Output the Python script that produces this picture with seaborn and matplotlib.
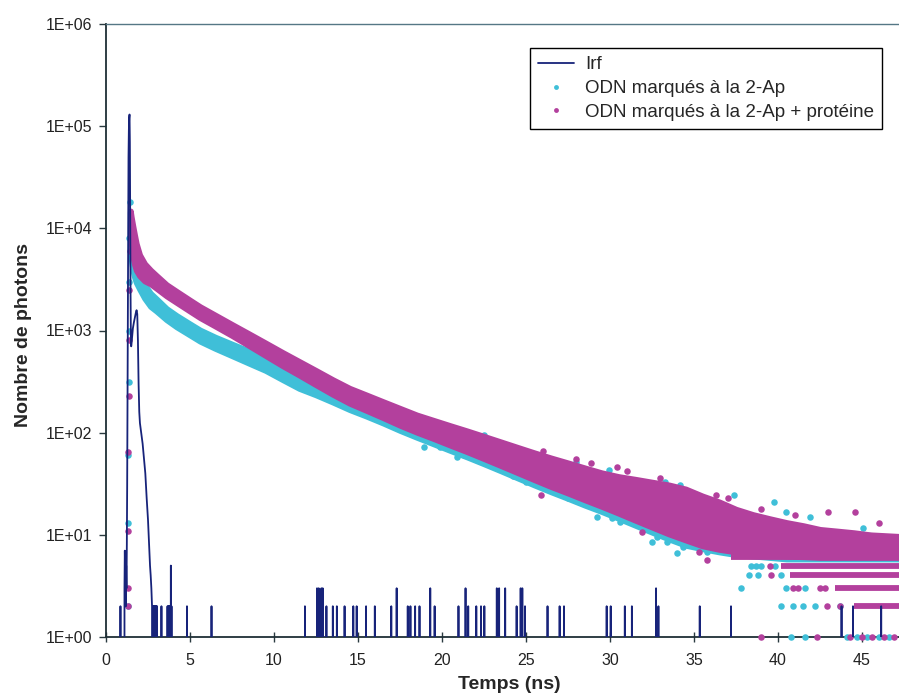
import numpy as np
import pandas as pd
import matplotlib
matplotlib.use("Agg")
import matplotlib.pyplot as plt
from matplotlib.lines import Line2D
from matplotlib.ticker import FuncFormatter, NullLocator
import seaborn as sns

# === Data ===
# decay bands: lower / upper edge of the dot cloud (photon counts) on a time grid (ns)
t_band = [1.45, 1.5, 1.6, 1.7, 1.8, 2.0, 2.3, 2.65, 3.0, 3.6, 4.2, 5.0, 5.6, 6.5, 7.5, 8.5, 9.5,
          10.5, 11.5, 12.5, 13.5, 14.5, 15.5, 16.5, 17.5, 18.5, 19.5, 20.5, 21.5, 22.5, 23.5,
          24.5, 25.5, 26.5, 27.5, 28.5, 29.5, 30.5, 31.5, 32.5, 33.5, 34.5, 35.5, 36.5, 37.5,
          38.5, 39.5, 40.5, 41.5, 42.5, 43.5, 44.5, 45.5, 46.5, 47.5]

mag_lo = [8900, 7200, 5250, 4400, 3890, 3430, 3055, 2860, 2590, 2180, 1880, 1545, 1335, 1105,
          893, 713, 568, 453, 366, 294, 237, 194, 165, 140, 118, 101, 87.5, 75.3, 65, 55.7,
          47.6, 40.6, 34.6, 29.6, 25.6, 22, 19, 16.3, 13.9, 11.9, 10.2, 8.9, 7.8, 7.2, 6.8,
          6.5, 6.3, 6.2, 6.1, 6.0, 6.0, 6.0, 6.0, 6.0, 6.0]
mag_hi = [14800, 13000, 10500, 8600, 7100, 5500, 4500, 3900, 3450, 2810, 2415, 1980, 1710, 1415,
          1146, 931, 755, 611, 498, 406, 330, 272, 234, 201, 173, 149, 132, 117, 104, 92,
          81.3, 71.8, 63.5, 56.5, 50.6, 45.2, 40.5, 37.2, 35, 32.8, 30.8, 28.1, 24, 21, 17.8,
          15.8, 14.4, 13.2, 12.3, 11.3, 10.9, 10.5, 10, 9.8, 9.6]

cyan_lo = [6300, 5000, 3890, 3310, 2950, 2540, 2065, 1720, 1550, 1275, 1085, 902, 785, 668,
           566, 479, 406, 331, 271, 234, 199, 168, 145, 124, 105, 90, 77.6, 66.8, 57.7, 49.5,
           42.3, 36, 30.7, 26.3, 22.7, 19.5, 16.9, 14.5, 12.4, 10.6, 9.1, 7.9, 7.3, 6.8, 6.4,
           6.2, 6.0, 5.8, 5.8, 5.8, 5.8, 5.8, 5.8, 5.8, 5.8]
cyan_hi = [14450, 8700, 5890, 4790, 4070, 3430, 2790, 2310, 2040, 1640, 1400, 1160, 1010, 861,
           736, 631, 540, 447, 369, 324, 277, 237, 208, 180, 154, 134, 119, 105, 93, 82.2,
           72.8, 64.3, 56.9, 50.6, 45.3, 40.5, 36.2, 33.2, 31.2, 29.2, 27.5, 25.1, 22, 19.5,
           17, 15, 13.6, 12.5, 11.7, 11.1, 10.6, 10.2, 9.9, 9.6, 9.4]

# single dots: rising edge, stray points, sparse low-count levels
mag_dot_t = [1.30, 1.31, 1.32, 1.33, 1.34, 1.36, 1.38, 1.40,
             25.91, 26.0, 28.0, 28.86, 30.43, 31.0, 31.9, 33.0,
             35.3, 35.8, 36.32, 37.0, 39.0, 41.0, 43.0, 44.56, 46.0,
             42.9, 43.7, 40.9, 41.2, 42.5, 42.8, 39.6, 39.5]
mag_dot_n = [2, 3, 11, 65, 230, 800, 2500, 6000,
             24.5, 66, 55, 50, 46, 42, 10.7, 36,
             6.8, 5.7, 24.6, 23, 18, 15.5, 16.8, 16.8, 13,
             2, 2, 3, 3, 3, 3, 4, 5]

cyan_dot_t = [1.31, 1.32, 1.33, 1.34, 1.35, 1.37, 1.39, 1.42,
              18.9, 19.9, 20.9, 21.3, 22.48, 24.2, 25.0, 27.48, 27.97, 28.96, 29.25, 29.93,
              30.13, 30.62, 32.49, 32.78, 33.27, 33.37, 33.96, 34.04, 34.16, 34.34, 34.35,
              35.23, 35.8, 36.4, 37.4, 39.75, 40.5, 41.9, 45.05,
              40.15, 40.9, 41.5, 42.2, 43.7, 37.8, 40.5, 41.6, 38.3, 38.8, 40.15, 38.4, 38.7,
              39.0, 39.8]
cyan_dot_n = [2, 13, 60, 310, 1000, 3000, 8000, 18000,
              73, 73, 58, 60, 95, 38, 33, 23, 52, 18.8, 15, 43,
              14.6, 13.4, 8.6, 9.6, 33, 8.6, 6.6, 11.1, 30.8, 7.6, 7.9,
              8.3, 6.8, 7.6, 24.6, 21, 16.8, 15, 11.7,
              2, 2, 2, 2, 2, 3, 3, 3, 4, 4, 4, 5, 5,
              5, 5]

# counts of 1 sitting on the axis
mag_one_t = [39.0, 42.3, 44.3, 45.0, 45.6, 46.3, 46.9]
cyan_one_t = [40.8, 41.6, 44.1, 44.7, 45.3, 46.0, 46.6]

# dense integer-count rows in the tail (magenta)
row_levels = [2, 3, 4, 5, 6]
row_start = [44.5, 43.4, 40.7, 40.15, 37.2]

# Irf: main pulse profile
irf_prof_t = [1.08, 1.10, 1.12, 1.14, 1.16, 1.18, 1.20, 1.22, 1.24, 1.26, 1.28, 1.30, 1.32,
              1.34, 1.36, 1.38, 1.40, 1.42, 1.44, 1.46, 1.48, 1.50, 1.52, 1.56, 1.60, 1.66,
              1.72, 1.78, 1.82, 1.86, 1.90, 1.94, 1.98, 2.02, 2.06, 2.10, 2.14, 2.18, 2.22,
              2.26, 2.30, 2.34, 2.38, 2.42, 2.46, 2.50, 2.54, 2.58, 2.62, 2.66, 2.70, 2.74, 2.76]
irf_prof_n = [0, 3, 7, 4, 6, 2, 5, 3, 8, 30, 200, 2000, 15000,
              50000, 90000, 120000, 130000, 70000, 12000, 2500, 900, 700, 750, 900, 1050, 1200,
              1350, 1500, 1580, 1450, 800, 300, 160, 124, 110, 98, 88, 78, 66,
              55, 46, 40, 30, 23, 18, 14, 10, 7, 5, 4, 3, 2, 0]

# Irf: isolated background counts
spike_t = [0.86, 2.80, 2.84, 2.88, 2.92, 2.96, 3.00, 3.04, 3.30, 3.66, 3.70, 3.74, 3.78, 3.82,
           3.86, 3.90, 4.82, 6.28, 11.84, 12.56, 12.66, 12.82, 12.90, 13.12, 13.50, 13.74,
           14.20, 14.72, 14.92, 15.48, 16.00, 16.98, 17.30, 17.96, 18.12, 18.40, 18.66, 19.30,
           19.56, 20.98, 21.40, 21.56, 22.04, 22.32, 22.52, 23.26, 23.40, 23.76, 24.44, 24.68,
           24.78, 24.94, 26.28, 27.00, 27.26, 29.80, 30.04, 30.88, 31.30, 32.74, 32.88, 35.34,
           37.20, 43.78, 44.46, 46.14]
spike_n = [2, 2, 2, 2, 2, 2, 2, 2, 2, 2, 2, 2, 2, 2,
           5, 2, 2, 2, 2, 3, 3, 3, 3, 2, 2, 2,
           2, 2, 2, 2, 2, 2, 3, 2, 2, 2, 2, 3,
           2, 2, 3, 2, 2, 2, 2, 3, 3, 3, 2, 3,
           3, 2, 2, 2, 2, 2, 2, 2, 2, 3, 2, 2,
           2, 2, 2, 2]

y_ticks = [1, 10, 100, 1000, 10000, 100000, 1000000]
x_ticks = [0, 5, 10, 15, 20, 25, 30, 35, 40, 45]
labels = ["Irf", "ODN marqués à la 2-Ap", "ODN marqués à la 2-Ap + protéine"]
c_irf = "#17237a"
c_cyan = "#3fbfd8"
c_mag = "#b3409d"

# === Irf line (zero counts between isolated channels) ===
irf_t, irf_n = list(irf_prof_t), list(irf_prof_n)
for t, n in zip(spike_t, spike_n):
    irf_t += [t - 0.01, t, t + 0.01]
    irf_n += [0, n, 0]
irf = pd.DataFrame({"t": irf_t, "n": irf_n})

sns.set_style("white")
plt.rcParams["font.family"] = ["Liberation Sans", "DejaVu Sans"]

fig = plt.figure(figsize=(8.99, 6.97), dpi=100)
ax = fig.add_axes([106 / 899, 60 / 697, 793 / 899, 613 / 697])

ms = 22      # dot size
edge = 4.2   # band edge width ~ one dot

# cyan cloud
ax.fill_between(t_band, cyan_lo, cyan_hi, color=c_cyan, edgecolor=c_cyan, lw=edge,
                joinstyle="round", zorder=2)
sns.scatterplot(x=cyan_dot_t, y=cyan_dot_n, color=c_cyan, s=ms, linewidth=0, ax=ax,
                legend=False, zorder=2.1)

# magenta cloud
ax.fill_between(t_band, mag_lo, mag_hi, color=c_mag, edgecolor=c_mag, lw=edge,
                joinstyle="round", zorder=3)
ax.hlines(row_levels, row_start, t_band[-1], colors=c_mag, lw=edge, zorder=3)
sns.scatterplot(x=mag_dot_t, y=mag_dot_n, color=c_mag, s=ms, linewidth=0, ax=ax,
                legend=False, zorder=3.1)

# counts of 1 on the axis line
sns.scatterplot(x=cyan_one_t, y=[1] * len(cyan_one_t), color=c_cyan, s=ms, linewidth=0,
                ax=ax, legend=False, zorder=3.2, clip_on=False)
sns.scatterplot(x=mag_one_t, y=[1] * len(mag_one_t), color=c_mag, s=ms, linewidth=0,
                ax=ax, legend=False, zorder=3.2, clip_on=False)

# Irf on top
sns.lineplot(data=irf, x="t", y="n", sort=False, estimator=None, color=c_irf, lw=1.3,
             ax=ax, legend=False, zorder=4)

# === Axes ===
ax.set_yscale("log")
ax.set_ylim(1, 1e6)
ax.set_xlim(0, 47.2)
ax.set_xticks(x_ticks)
ax.set_yticks(y_ticks)
ax.yaxis.set_minor_locator(NullLocator())
ax.yaxis.set_major_formatter(FuncFormatter(lambda v, p: f"1E+{int(round(np.log10(v))):02d}"))

ax.tick_params(axis="y", direction="out", length=5, width=1, color="#2a3a40",
               labelsize=11.5, pad=5, labelcolor="#222222", left=True)
ax.tick_params(axis="x", direction="inout", length=7, width=1, color="#2a3a40",
               labelsize=11.5, pad=8, labelcolor="#222222", bottom=True)

for side in ["left", "bottom"]:
    ax.spines[side].set_color("#1f2f36")
    ax.spines[side].set_linewidth(1.3)
ax.spines["top"].set_color("#557785")
ax.spines["top"].set_linewidth(1.0)
ax.spines["right"].set_visible(False)

ax.set_xlabel("Temps (ns)", fontsize=14, fontweight="bold")
ax.set_ylabel("Nombre de photons", fontsize=14, fontweight="bold")
ax.xaxis.set_label_coords(0.509, -0.077)
ax.yaxis.set_label_coords(-0.104, 0.493)
ax.xaxis.label.set_va("center")
ax.yaxis.label.set_va("center")

handles = [Line2D([], [], color=c_irf, lw=1.3),
           Line2D([], [], marker="o", ls="", ms=3.5, color=c_cyan, mec="none"),
           Line2D([], [], marker="o", ls="", ms=3.5, color=c_mag, mec="none")]
leg = ax.legend(handles, labels, loc="upper right", bbox_to_anchor=(0.979, 0.961),
                borderaxespad=0, fontsize=13.5, frameon=True, fancybox=False,
                framealpha=1, edgecolor="black", labelspacing=0.35, handlelength=1.9,
                handletextpad=0.6, borderpad=0.45)
leg.get_frame().set_linewidth(1.0)

fig.savefig("out.png", dpi=100)
